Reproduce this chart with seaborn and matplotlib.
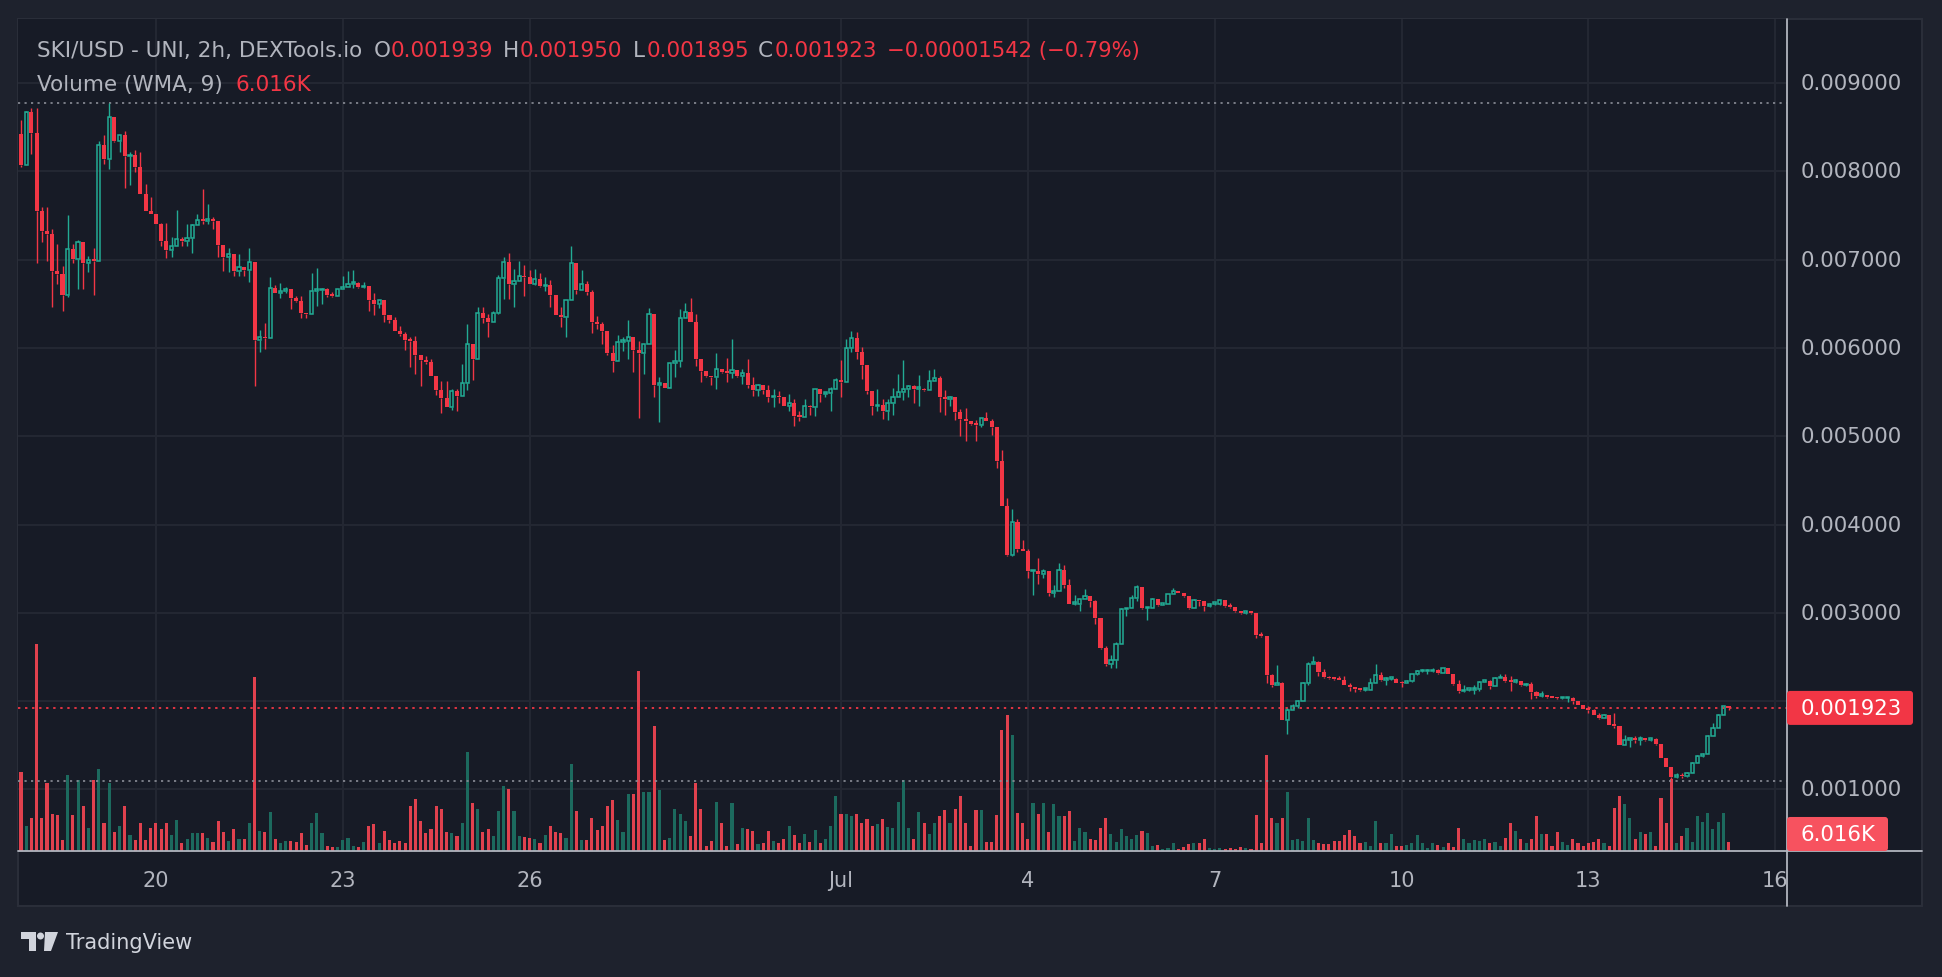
import numpy as np
import pandas as pd
import matplotlib
matplotlib.use("Agg")
import matplotlib.pyplot as plt
from matplotlib.patches import Rectangle, FancyBboxPatch, Polygon, Circle
from matplotlib.lines import Line2D
from matplotlib.transforms import IdentityTransform, blended_transform_factory
import seaborn as sns

# ---------------- data (prices in millionths of USD, volume in K) ----------------
first_open_x1e6 = 8420
close_x1e6 = [
    8070, 8670, 8430, 7550, 7320, 7290, 6870, 6840, 6600, 7120,
    7010, 7200, 6960, 7000, 6990, 8300, 8140, 8620, 8350, 8410,
    8170, 8190, 8050, 7750, 7550, 7520, 7400, 7210, 7110, 7150,
    7240, 7210, 7250, 7390, 7450, 7440, 7460, 7440, 7170, 7030,
    7070, 6870, 6920, 6880, 6970, 6090, 6130, 6110, 6680, 6620,
    6650, 6670, 6570, 6530, 6400, 6380, 6650, 6655, 6665, 6600,
    6590, 6670, 6690, 6730, 6740, 6690, 6700, 6540, 6500, 6540,
    6370, 6320, 6190, 6160, 6090, 6080, 5920, 5860, 5840, 5680,
    5520, 5430, 5330, 5510, 5460, 5600, 6050, 5870, 6400, 6340,
    6300, 6400, 6790, 6970, 6730, 6760, 6820, 6800, 6730, 6780,
    6700, 6710, 6600, 6370, 6350, 6540, 6960, 6660, 6720, 6630,
    6290, 6270, 6190, 5940, 5850, 6070, 6080, 6120, 5980, 5940,
    6050, 6390, 5580, 5600, 5550, 5830, 5850, 6340, 6410, 6300,
    5880, 5740, 5680, 5670, 5760, 5730, 5720, 5750, 5680, 5720,
    5580, 5520, 5580, 5520, 5440, 5460, 5440, 5340, 5380, 5230,
    5220, 5340, 5330, 5540, 5480, 5490, 5530, 5640, 5610, 6000,
    6110, 5960, 5810, 5510, 5340, 5350, 5290, 5380, 5450, 5500,
    5540, 5570, 5540, 5540, 5520, 5630, 5660, 5440, 5420, 5440,
    5280, 5200, 5170, 5140, 5130, 5210, 5170, 5100, 4720, 4210,
    3650, 4030, 3720, 3700, 3470, 3470, 3440, 3470, 3230, 3250,
    3490, 3320, 3100, 3100, 3160, 3190, 3130, 2940, 2600, 2420,
    2470, 2650, 3040, 3050, 3170, 3290, 3050, 3050, 3160, 3090,
    3100, 3210, 3250, 3230, 3190, 3050, 3150, 3130, 3080, 3100,
    3100, 3140, 3080, 3070, 3020, 3000, 3010, 3000, 2750, 2740,
    2300, 2180, 2210, 1790, 1900, 1940, 2000, 2210, 2420, 2440,
    2330, 2270, 2260, 2250, 2240, 2180, 2160, 2140, 2130, 2130,
    2210, 2300, 2240, 2250, 2250, 2210, 2200, 2230, 2310, 2340,
    2340, 2340, 2350, 2320, 2370, 2310, 2190, 2110, 2130, 2130,
    2140, 2220, 2230, 2170, 2260, 2270, 2230, 2220, 2230, 2180,
    2190, 2100, 2060, 2060, 2050, 2040, 2030, 2030, 2040, 2000,
    1960, 1910, 1900, 1840, 1810, 1840, 1730, 1720, 1500, 1560,
    1570, 1560, 1570, 1560, 1570, 1510, 1350, 1250, 1140, 1160,
    1150, 1180, 1300, 1380, 1400, 1610, 1690, 1840, 1939, 1923,
]
high_x1e6 = [
    8580, 8680, 8720, 8720, 7600, 7600, 7350, 7180, 6930, 7510,
    7180, 7220, 7200, 7040, 7130, 8340, 8410, 8780, 8620, 8410,
    8460, 8220, 8240, 8220, 7860, 7710, 7520, 7420, 7420, 7260,
    7560, 7260, 7400, 7400, 7520, 7800, 7630, 7480, 7440, 7170,
    7130, 7070, 7070, 6920, 7130, 6970, 6200, 6280, 6810, 6710,
    6740, 6690, 6670, 6590, 6590, 6400, 6850, 6910, 6680, 6680,
    6640, 6670, 6820, 6870, 6880, 6750, 6750, 6700, 6620, 6540,
    6540, 6370, 6350, 6250, 6180, 6120, 6140, 5920, 5910, 5880,
    5680, 5630, 5630, 5530, 5530, 5820, 6270, 6050, 6460, 6460,
    6390, 6420, 6830, 7030, 7080, 6900, 6980, 6940, 6880, 6890,
    6850, 6800, 6770, 6600, 6460, 6540, 7150, 6960, 6880, 6760,
    6660, 6360, 6290, 6190, 6030, 6150, 6130, 6320, 6120, 6080,
    6050, 6450, 6390, 5670, 5600, 5830, 5980, 6440, 6510, 6570,
    6390, 5880, 5740, 5680, 5940, 5760, 5890, 6100, 5750, 5760,
    5880, 5670, 5590, 5580, 5580, 5530, 5510, 5450, 5480, 5420,
    5290, 5420, 5360, 5540, 5540, 5500, 5560, 5660, 5860, 6100,
    6190, 6180, 6010, 5810, 5510, 5540, 5420, 5420, 5550, 5710,
    5860, 5580, 5580, 5690, 5550, 5750, 5760, 5680, 5520, 5460,
    5440, 5310, 5320, 5170, 5180, 5210, 5270, 5200, 5100, 4850,
    4300, 4180, 4060, 3830, 3720, 3480, 3620, 3500, 3470, 3310,
    3560, 3540, 3380, 3200, 3160, 3270, 3190, 3150, 2940, 2620,
    2520, 2670, 3060, 3060, 3200, 3310, 3290, 3070, 3170, 3160,
    3110, 3210, 3280, 3250, 3230, 3190, 3160, 3150, 3130, 3110,
    3110, 3150, 3140, 3110, 3070, 3020, 3020, 3020, 3000, 2780,
    2740, 2310, 2410, 2220, 1920, 1970, 2010, 2220, 2440, 2510,
    2460, 2360, 2280, 2270, 2290, 2290, 2210, 2160, 2140, 2150,
    2260, 2420, 2330, 2270, 2260, 2260, 2230, 2240, 2310, 2350,
    2360, 2360, 2370, 2360, 2370, 2370, 2310, 2240, 2180, 2140,
    2180, 2230, 2240, 2240, 2270, 2310, 2310, 2280, 2250, 2230,
    2200, 2220, 2120, 2120, 2070, 2060, 2050, 2040, 2050, 2050,
    2000, 1960, 1950, 1910, 1860, 1850, 1840, 1860, 1720, 1620,
    1580, 1600, 1600, 1580, 1580, 1580, 1510, 1360, 1250, 1190,
    1180, 1200, 1310, 1390, 1410, 1620, 1750, 1850, 1950, 1950,
]
low_x1e6 = [
    8050, 8070, 8200, 6960, 7200, 6980, 6470, 6720, 6420, 6580,
    6960, 6670, 6670, 6860, 6600, 6990, 8090, 8030, 8330, 8220,
    7810, 7850, 7990, 7750, 7550, 7520, 7400, 7160, 7020, 7030,
    7150, 7150, 7150, 7080, 7390, 7400, 7410, 7350, 7030, 6870,
    6860, 6820, 6820, 6820, 6750, 5570, 5950, 5990, 6110, 6620,
    6570, 6620, 6440, 6520, 6340, 6340, 6380, 6480, 6500, 6580,
    6580, 6590, 6670, 6690, 6680, 6680, 6680, 6420, 6370, 6450,
    6300, 6280, 6190, 6140, 5980, 5790, 5710, 5570, 5820, 5680,
    5470, 5260, 5330, 5300, 5290, 5460, 5520, 5640, 5870, 6280,
    6120, 6300, 6380, 6550, 6550, 6460, 6760, 6590, 6730, 6710,
    6690, 6650, 6460, 6370, 6240, 6120, 6540, 6610, 6660, 6600,
    6170, 6210, 6050, 5920, 5730, 5850, 5970, 5870, 5730, 5210,
    5710, 6050, 5440, 5160, 5550, 5550, 5670, 5790, 6340, 6300,
    5800, 5620, 5670, 5580, 5540, 5720, 5610, 5660, 5670, 5590,
    5550, 5460, 5460, 5480, 5390, 5330, 5380, 5340, 5290, 5120,
    5170, 5220, 5240, 5230, 5390, 5450, 5290, 5530, 5450, 5610,
    5950, 5880, 5650, 5480, 5240, 5290, 5200, 5180, 5240, 5450,
    5410, 5450, 5380, 5340, 5510, 5520, 5630, 5280, 5240, 5340,
    5190, 5000, 4950, 5130, 4950, 5100, 5170, 5010, 4640, 4210,
    3640, 3640, 3690, 3700, 3400, 3200, 3330, 3390, 3190, 3180,
    3250, 3280, 3100, 3090, 3020, 3160, 3070, 2870, 2590, 2400,
    2380, 2370, 2650, 2960, 3050, 3130, 3040, 2920, 3050, 3080,
    3090, 3100, 3210, 3220, 3180, 3040, 3050, 3080, 3020, 3070,
    3090, 3090, 3070, 3060, 3010, 2990, 2990, 2990, 2720, 2730,
    2210, 2160, 2180, 1790, 1630, 1900, 1920, 2000, 2180, 2420,
    2280, 2260, 2250, 2240, 2240, 2180, 2120, 2100, 2120, 2120,
    2130, 2210, 2230, 2180, 2240, 2200, 2160, 2200, 2220, 2300,
    2330, 2310, 2330, 2310, 2320, 2310, 2180, 2090, 2100, 2120,
    2080, 2120, 2220, 2140, 2170, 2260, 2220, 2120, 2210, 2170,
    2170, 2020, 2030, 2050, 2040, 2030, 2020, 2020, 1990, 1970,
    1960, 1910, 1870, 1840, 1800, 1810, 1730, 1700, 1500, 1500,
    1480, 1530, 1500, 1550, 1550, 1500, 1350, 1250, 1090, 1130,
    1130, 1140, 1180, 1300, 1370, 1400, 1610, 1690, 1840, 1895,
]
volume_k = [
    28, 9, 11.5, 73, 11.5, 24, 13, 12.6, 4, 27,
    12.6, 25, 16, 8, 25, 29, 10, 24, 6.7, 8.8,
    16, 5.5, 4, 10, 3.8, 8, 9.8, 7.6, 10, 5.5,
    11, 2.7, 4.4, 6.5, 6.2, 6.2, 4.7, 3.2, 10.6, 6.7,
    3.5, 7.6, 4.4, 4.1, 10, 61.5, 7, 6.7, 13.8, 4.4,
    3, 3.5, 3.5, 3.3, 6.5, 2, 10, 13.5, 6.5, 1.8,
    1.5, 1.5, 4, 4.7, 1.8, 1.5, 3.2, 8.8, 9.4, 2.7,
    7, 4, 2.7, 3.5, 2.7, 16, 18.5, 10.6, 6.5, 7.6,
    16, 14.7, 6.7, 6.5, 5.3, 10, 35, 17, 14.7, 6.7,
    7.9, 5.3, 14, 23, 22, 14, 5.3, 5, 4.7, 4.4,
    2.7, 5.5, 9, 6.7, 6.5, 4.5, 30.6, 14, 4, 4,
    11.5, 7.3, 8.8, 16, 18, 11, 6.7, 20, 20, 63.6,
    21, 21, 44, 21.5, 4, 4.7, 14.7, 13, 10.6, 5.3,
    24, 15, 1.8, 3.5, 17.3, 10, 1.8, 16.8, 2.4, 8,
    7.9, 7, 2.4, 3, 7, 3.5, 3, 4.4, 8.8, 5.5,
    3, 6, 3.2, 7.4, 3, 4.4, 8.8, 19.4, 13, 13.2,
    12.4, 13, 9.8, 11.4, 8.8, 9.7, 11.4, 8.6, 8, 17.3,
    25, 8, 4.4, 13.8, 10, 6.1, 10, 12.4, 14.4, 10,
    14.7, 19.4, 10, 1.8, 14.5, 14.5, 3.2, 3.2, 12.6, 42.8,
    48, 41, 13.5, 10, 4.4, 17, 13, 17, 6.7, 16.7,
    12.4, 12.4, 14, 3.5, 8, 6.7, 4.4, 4, 8, 11.8,
    5.9, 3.2, 7.9, 5.3, 4.4, 5.5, 7, 6.5, 1.8, 2,
    0.8, 1.2, 2.7, 0.8, 1.5, 2.4, 3, 3, 4.4, 1.2,
    0.8, 1.2, 0.8, 1.2, 0.8, 1.5, 1.2, 0.8, 12.6, 3,
    34, 11.8, 10, 11.8, 21, 4, 4.4, 3.5, 11.8, 4,
    3, 2.4, 2.4, 3.5, 3.5, 5.5, 7.4, 5.3, 3, 3.2,
    1.8, 10.6, 2.7, 3, 5.9, 1.8, 1.8, 2, 3, 5.5,
    3, 1.2, 3, 2, 1.5, 3, 1.5, 8, 4.4, 3,
    4, 3.5, 4.4, 2.7, 3.2, 1.8, 4.7, 9.8, 7, 4.4,
    2.7, 4.1, 12.4, 5.9, 5.9, 1.8, 6.7, 3.2, 2, 4.4,
    2.7, 1.8, 2.7, 3.2, 4.1, 2.7, 1.8, 15.3, 19.4, 16.5,
    11.8, 4.1, 6.7, 5.9, 6.7, 1.8, 18.8, 10, 25.3, 2.7,
    5.3, 8.2, 3.2, 12.4, 10.2, 13.5, 7.6, 10.2, 13.5, 3.2,
]
volume_wma_k = 6.016
day_tick_bar = [26, 62, 98, 158, 194, 230, 266, 302, 338]
day_tick_labels = ["20", "23", "26", "Jul", "4", "7", "10", "13", "16"]
price_grid = [0.001, 0.002, 0.003, 0.004, 0.005, 0.006, 0.007, 0.008, 0.009]
price_labels = [0.009, 0.008, 0.007, 0.006, 0.005, 0.004, 0.003, 0.001]
title = "SKI/USD - UNI, 2h, DEXTools.io"
ohlc_header = [("O", "0.001939"), ("H", "0.001950"), ("L", "0.001895"), ("C", "0.001923")]
change_text = "\u22120.00001542 (\u22120.79%)"

# ---------------- derived arrays ----------------
close = np.array(close_x1e6) * 1e-6
high = np.array(high_x1e6) * 1e-6
low = np.array(low_x1e6) * 1e-6
open_ = np.concatenate([[first_open_x1e6 * 1e-6], close[:-1]])
n = len(close)
assert len(high) == n and len(low) == n and len(volume_k) == n, (n, len(high), len(low), len(volume_k))
bar = np.arange(n)
up = close >= open_

# ---------------- style ----------------
W, H = 1942, 978
OUTER = "#1e222d"
PANEL = "#171b26"
BORDER = "#2a2e39"
GRID = "#242833"
TEXT = "#b2b5be"
UP = "#22ab94"
DOWN = "#f23645"
VOL_UP = "#1c6a5e"
VOL_DOWN = "#e0414e"

sns.set_theme(style="dark")
plt.rcParams["font.family"] = ["DejaVu Sans"]
plt.rcParams["axes.edgecolor"] = PANEL

fig = plt.figure(figsize=(W / 100, H / 100), dpi=100)
fig.patch.set_facecolor(OUTER)

# chart panel
fig.add_artist(Rectangle((18, H - 907), 1904, 887, transform=IdentityTransform(),
                         facecolor=PANEL, edgecolor=BORDER, lw=1.5, zorder=0))

XL = (-0.578, 340.27)
PL = (0.000302, 0.009727)

ax_v = fig.add_axes([18 / W, (H - 852) / H, 1769 / W, 832 / H])
ax_v.set_facecolor(PANEL)
ax_p = ax_v.twinx()
ax_p.patch.set_visible(False)

# volume bars (seaborn)
df_vol = pd.DataFrame({"bar": bar, "volume_k": volume_k,
                       "direction": np.where(up, "up", "down")})
sns.barplot(data=df_vol, x="bar", y="volume_k", hue="direction", hue_order=["up", "down"],
            palette={"up": VOL_UP, "down": VOL_DOWN}, native_scale=True, width=0.6,
            dodge=False, errorbar=None, saturation=1, linewidth=0, legend=False, ax=ax_v)
ax_v.set_xlim(*XL)
ax_v.set_ylim(0, 294)
ax_p.set_ylim(*PL)
ax_p.set_xlim(*XL)

for a in (ax_v, ax_p):
    a.set_xticks([]); a.set_yticks([])
    a.set_xlabel(""); a.set_ylabel("")
    for s in a.spines.values():
        s.set_visible(False)

# grid
gtr = blended_transform_factory(ax_v.transAxes, ax_p.transData)
for p in price_grid:
    ax_v.plot([0, 1], [p, p], transform=gtr, color=GRID, lw=1.4, zorder=0.5)
for b in day_tick_bar:
    ax_v.axvline(b, color=GRID, lw=1.4, zorder=0.5)

# candles
body_lo = np.minimum(open_, close)
body_hi = np.maximum(open_, close)
min_h = 1.8e-5
body_h = np.maximum(body_hi - body_lo, min_h)
cols = np.where(up, UP, DOWN)
ax_p.vlines(bar, low, body_lo, colors=cols, lw=1.0, zorder=3)
ax_p.vlines(bar, body_hi, high, colors=cols, lw=1.0, zorder=3)
ax_p.bar(bar[~up], body_h[~up], bottom=body_lo[~up], width=0.78, color=DOWN, lw=0, zorder=4)
ax_p.bar(bar[up], body_h[up], bottom=body_lo[up], width=0.62, facecolor="none",
         edgecolor=UP, lw=1.1, zorder=4)

# high / low / last price dotted lines
ax_p.axhline(high.max(), color="#8b8e97", lw=1.2, ls=(0, (1.3, 2.6)), zorder=2)
ax_p.axhline(low.min(), color="#8b8e97", lw=1.2, ls=(0, (1.3, 2.6)), zorder=2)
ax_p.axhline(close[-1], color=DOWN, lw=1.3, ls=(0, (1.3, 2.6)), zorder=2)

# time axis
ax_t = fig.add_axes([18 / W, (H - 907) / H, 1769 / W, 55 / H])
ax_t.set_xlim(*XL); ax_t.set_ylim(0, 1)
ax_t.axis("off")
for b, lab in zip(day_tick_bar, day_tick_labels):
    t = ax_t.text(b, 0.47, lab, ha="center", va="center", color=TEXT, fontsize=15)
    t.set_clip_on(True)

# separator lines
fig.add_artist(Line2D([1787, 1787], [H - 907, H - 20], transform=IdentityTransform(),
                      color="#b2b5be", lw=1.3, zorder=5))
fig.add_artist(Line2D([18, 1922], [H - 852, H - 852], transform=IdentityTransform(),
                      color="#b2b5be", lw=1.3, zorder=5))

# price labels
ltr = blended_transform_factory(fig.transFigure, ax_p.transData)
for p in price_labels:
    fig.text(1801 / W, p, f"{p:.6f}", transform=ltr, ha="left", va="center",
             color=TEXT, fontsize=15.3)

# badges
y_last = ax_p.transData.transform((0, close[-1]))[1]
fig.add_artist(FancyBboxPatch((1787, y_last - 17), 126, 34, boxstyle="round,pad=0,rounding_size=3",
                              transform=IdentityTransform(), facecolor=DOWN, edgecolor="none", zorder=6))
fig.text(1801, y_last, f"{close[-1]:.6f}", transform=IdentityTransform(), ha="left",
         va="center", color="white", fontsize=15.3, zorder=7)
y_vol = ax_v.transData.transform((0, volume_wma_k))[1]
fig.add_artist(FancyBboxPatch((1787, y_vol - 17), 101, 34, boxstyle="round,pad=0,rounding_size=3",
                              transform=IdentityTransform(), facecolor="#f7525f", edgecolor="none", zorder=6))
fig.text(1801, y_vol, f"{volume_wma_k:.3f}K", transform=IdentityTransform(), ha="left",
         va="center", color="white", fontsize=15.3, zorder=7)

# header legend
def ftxt(x, y, s, color, size=15.5, **kw):
    fig.text(x / W, 1 - y / H, s, ha="left", va="center", color=color, fontsize=size, **kw)

ftxt(37, 51, title, TEXT)
xs = [(374, 391), (503, 520), (633, 647), (758, 775)]
for (xl, xv), (lab, val) in zip(xs, ohlc_header):
    ftxt(xl, 51, lab, TEXT)
    ftxt(xv, 51, val, DOWN)
ftxt(887, 51, change_text, DOWN, size=15.2)
ftxt(37, 85, "Volume (WMA, 9)", TEXT)
ftxt(235, 85, f"{volume_wma_k:.3f}K", DOWN)

# footer logo + text
LOGO = "#d1d4dc"
def P(x, y):
    return (x, H - y)
fig.add_artist(Polygon([P(21, 933), P(36, 933), P(36, 952), P(29, 952), P(29, 940), P(21, 940)],
                       closed=True, transform=IdentityTransform(), facecolor=LOGO, edgecolor="none"))
fig.add_artist(Circle(P(40.5, 937), 3.5, transform=IdentityTransform(), facecolor=LOGO, edgecolor="none"))
fig.add_artist(Polygon([P(45, 933), P(58, 933), P(51, 952), P(44, 952)], closed=True,
                       transform=IdentityTransform(), facecolor=LOGO, edgecolor="none"))
ftxt(66, 943, "TradingView", LOGO, size=15)

fig.savefig("out.png", dpi=100, facecolor=OUTER)
